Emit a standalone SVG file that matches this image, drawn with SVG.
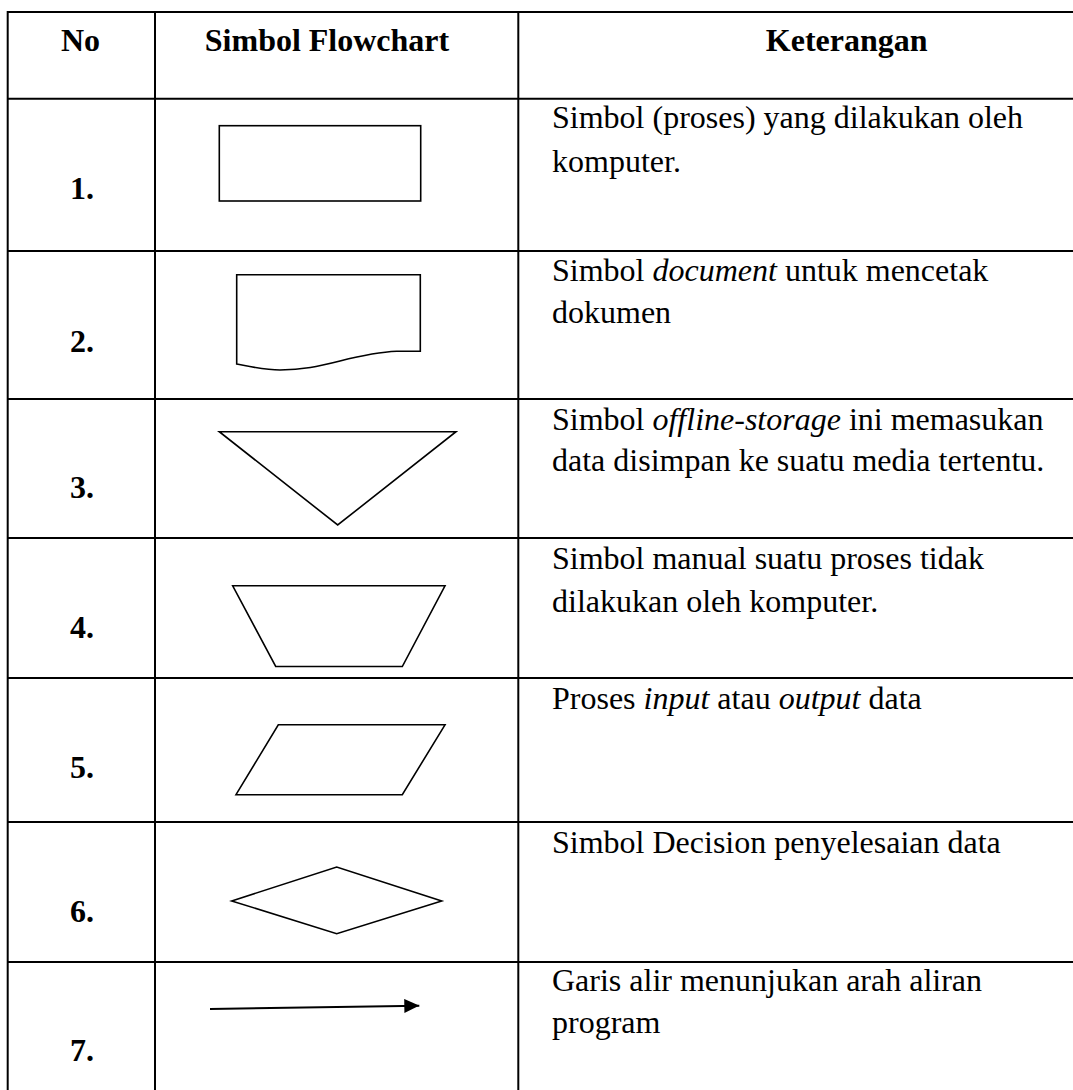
<svg xmlns="http://www.w3.org/2000/svg" width="1073" height="1090" viewBox="0 0 1073 1090">
<style>
.grid{stroke:#000;stroke-width:2;fill:none}
.shape{stroke:#000;stroke-width:1.6;fill:#fff;stroke-linejoin:miter}
text{font-family:"Liberation Serif","Times New Roman",serif;font-size:32px;fill:#000}
.hd{font-weight:bold;text-anchor:middle}
.num{font-weight:bold}
.it{font-style:italic}
</style>
<defs>
<marker id="ah" viewBox="0 0 15 14" refX="15" refY="7" markerWidth="15" markerHeight="14" markerUnits="userSpaceOnUse" orient="auto">
<path d="M0,0 L15,7 L0,14 Z" fill="#000"/>
</marker>
</defs>
<rect width="1073" height="1090" fill="#fff"/>
<g id="table-grid" class="grid">
<line x1="7.7" y1="12" x2="1073" y2="12"/>
<line x1="7.7" y1="98.7" x2="1073" y2="98.7"/>
<line x1="7.7" y1="251" x2="1073" y2="251"/>
<line x1="7.7" y1="399" x2="1073" y2="399"/>
<line x1="7.7" y1="538" x2="1073" y2="538"/>
<line x1="7.7" y1="678" x2="1073" y2="678"/>
<line x1="7.7" y1="822" x2="1073" y2="822"/>
<line x1="7.7" y1="962" x2="1073" y2="962"/>
<line x1="7.7" y1="11" x2="7.7" y2="1090"/>
<line x1="155" y1="11" x2="155" y2="1090"/>
<line x1="518.3" y1="11" x2="518.3" y2="1090"/>
</g>
<g id="header">
<text class="hd" x="80.5" y="50.7">No</text>
<text class="hd" x="327" y="50.7">Simbol Flowchart</text>
<text class="hd" x="846.7" y="50.7">Keterangan</text>
</g>
<g id="row1">
<text class="num" x="70" y="199.3">1.</text>
<rect class="shape" x="219.3" y="125.7" width="201.4" height="75.3"/>
<text x="552" y="128.3">Simbol (proses) yang dilakukan oleh</text>
<text x="552" y="171.7">komputer.</text>
</g>
<g id="row2">
<text class="num" x="70" y="351.7">2.</text>
<path class="shape" d="M236.7,274.7 H420.3 V351.3 H396.7 C378,352 360,356 340,361 C318,366.5 303,370 280,370 C265,370 250,366.5 236.7,364 Z"/>
<text x="552" y="280.7">Simbol <tspan class="it">document</tspan> untuk mencetak</text>
<text x="552" y="323.3">dokumen</text>
</g>
<g id="row3">
<text class="num" x="70" y="498.3">3.</text>
<polygon class="shape" points="219.3,431.7 456,431.7 337.7,525"/>
<text x="552" y="429.5">Simbol <tspan class="it">offline-storage</tspan> ini memasukan</text>
<text x="552" y="471">data disimpan ke suatu media tertentu.</text>
</g>
<g id="row4">
<text class="num" x="70" y="638">4.</text>
<polygon class="shape" points="232.7,585.8 445,585.8 402.3,666.5 275.7,666.5"/>
<text x="552" y="568.5">Simbol manual suatu proses tidak</text>
<text x="552" y="612">dilakukan oleh komputer.</text>
</g>
<g id="row5">
<text class="num" x="70" y="777.5">5.</text>
<polygon class="shape" points="278.3,724.8 445,724.8 402.3,794.7 236,794.7"/>
<text x="552" y="709">Proses <tspan class="it">input</tspan> atau <tspan class="it">output</tspan> data</text>
</g>
<g id="row6">
<text class="num" x="70" y="922.3">6.</text>
<polygon class="shape" points="231.7,900.9 336.7,867.1 441.7,900.9 336.7,933.7"/>
<text x="552" y="853">Simbol Decision penyelesaian data</text>
</g>
<g id="connectors">
<line x1="210" y1="1009" x2="419.3" y2="1005.7" stroke="#000" stroke-width="2" marker-end="url(#ah)"/>
</g>
<g id="row7">
<text class="num" x="70" y="1061">7.</text>
<text x="552" y="991">Garis alir menunjukan arah aliran</text>
<text x="552" y="1033">program</text>
</g>
</svg>
